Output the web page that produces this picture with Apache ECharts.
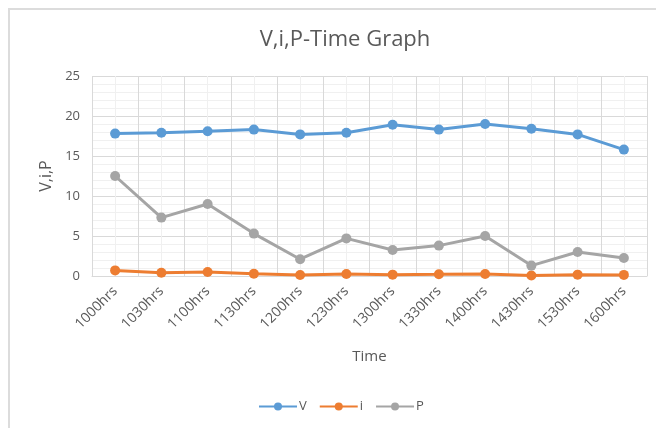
<!DOCTYPE html>
<html>
<head>
<meta charset="utf-8">
<script src="https://cdn.jsdelivr.net/npm/echarts@6/dist/echarts.min.js"></script>
<style>
  html, body { margin: 0; padding: 0; background: #fff; }
  #chart { width: 656px; height: 428px; }
</style>
</head>
<body>
<div id="chart"></div>
<script>
// Readings taken every half hour
const times = ['1000hrs', '1030hrs', '1100hrs', '1130hrs', '1200hrs', '1230hrs',
               '1300hrs', '1330hrs', '1400hrs', '1430hrs', '1530hrs', '1600hrs'];
const voltage = [17.8, 17.9, 18.1, 18.3, 17.7, 17.9, 18.9, 18.3, 19.0, 18.4, 17.7, 15.8];
const current = [0.70, 0.41, 0.50, 0.29, 0.12, 0.26, 0.17, 0.21, 0.26, 0.07, 0.17, 0.14];
const power   = [12.5, 7.3, 9.0, 5.3, 2.1, 4.7, 3.25, 3.8, 5.0, 1.3, 3.0, 2.25];
const yTicks  = { min: 0, max: 25, interval: 5 };

const FONT = '"Open Sans", sans-serif';
const TEXT = '#595959';
const MAJOR = '#D9D9D9';
const MINOR = '#F0F0F0';

const chart = echarts.init(document.getElementById('chart'), null, { renderer: 'canvas' });

function lineSeries(name, data, color) {
  return {
    name: name,
    type: 'line',
    xAxisIndex: 0,
    data: data,
    symbol: 'circle',
    symbolSize: 10,
    lineStyle: { width: 3, color: color },
    itemStyle: { color: color },
    emphasis: { disabled: true },
    animation: false
  };
}

chart.setOption({
  backgroundColor: '#fff',
  animation: false,
  graphic: [{
    type: 'rect',
    shape: { x: 9, y: 9, width: 720, height: 520 },
    style: { fill: 'none', stroke: '#DCDCDC', lineWidth: 2 },
    silent: true,
    z: -10
  }],
  title: {
    text: 'V,i,P-Time Graph',
    left: 340,
    textAlign: 'center',
    top: 24,
    textStyle: { fontFamily: FONT, fontSize: 22, fontWeight: 'normal', color: TEXT }
  },
  legend: {
    left: 253,
    top: 395,
    itemWidth: 38,
    itemHeight: 10,
    itemGap: 12,
    data: ['V', 'i', 'P'],
    textStyle: { fontFamily: FONT, fontSize: 13, color: TEXT, padding: [0, 0, 0, -3] }
  },
  grid: { left: 92, right: 9, top: 76, bottom: 152, containLabel: false },
  xAxis: [{
    type: 'category',
    data: times,
    boundaryGap: true,
    name: 'Time',
    nameLocation: 'middle',
    nameGap: 73,
    nameTextStyle: { fontFamily: FONT, fontSize: 15, color: TEXT },
    axisLine: { show: true, lineStyle: { color: MAJOR, width: 1 } },
    axisTick: { show: false },
    splitLine: { show: false },
    axisLabel: { rotate: 45, margin: 13, fontFamily: FONT, fontSize: 14, color: TEXT }
  }, {
    // helper axis: category boundaries (major) and centres (minor) as grid lines
    type: 'value',
    min: 0, max: 12, interval: 1,
    show: true,
    position: 'bottom',
    axisLine: { show: false },
    axisTick: { show: false },
    axisLabel: { show: false },
    splitLine: { show: true, lineStyle: { color: MAJOR, width: 1 } },
    minorTick: { show: false, splitNumber: 2 },
    minorSplitLine: { show: true, lineStyle: { color: MINOR, width: 1 } }
  }],
  yAxis: {
    type: 'value',
    min: yTicks.min, max: yTicks.max, interval: yTicks.interval,
    name: 'V,i,P',
    nameLocation: 'middle',
    nameGap: 38,
    nameRotate: 90,
    nameTextStyle: { fontFamily: FONT, fontSize: 16, color: TEXT },
    axisLine: { show: false },
    axisTick: { show: false },
    axisLabel: { margin: 12, fontFamily: FONT, fontSize: 13, color: TEXT },
    splitLine: { show: true, lineStyle: { color: MAJOR, width: 1 } },
    minorTick: { show: false, splitNumber: 5 },
    minorSplitLine: { show: true, lineStyle: { color: MINOR, width: 1 } }
  },
  series: [
    lineSeries('V', voltage, '#5B9BD5'),
    lineSeries('i', current, '#ED7D31'),
    lineSeries('P', power, '#A5A5A5')
  ]
});
</script>
</body>
</html>
